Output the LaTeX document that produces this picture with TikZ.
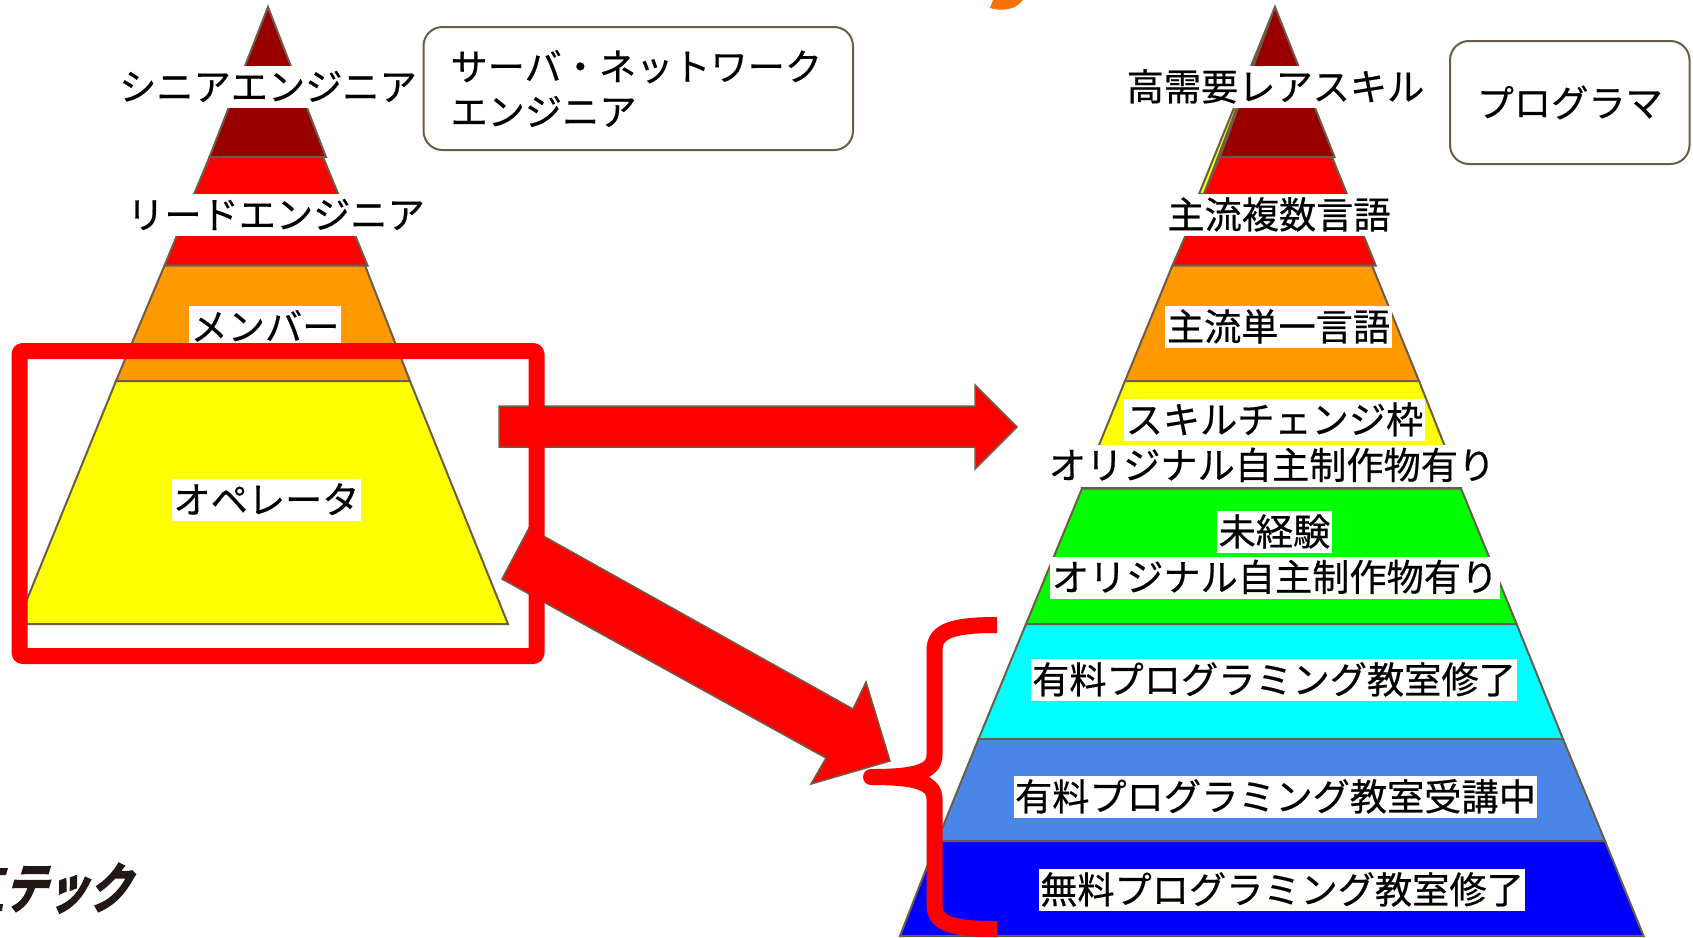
\documentclass[tikz,border=0pt]{standalone}
\usepackage{fontspec}
\setmainfont[FakeBold=0.5]{Noto Sans CJK JP}
\newfontfamily\logofont[FakeSlant=0.3,FakeBold=3,FakeStretch=0.78]{Noto Sans CJK JP Bold}
\definecolor{edgeC}{HTML}{6B5D48}
\definecolor{dkred}{HTML}{980000}
\definecolor{orangeC}{HTML}{FF9900}
\definecolor{midblue}{HTML}{4A86E8}
\definecolor{logoC}{HTML}{231815}
\definecolor{blobC}{HTML}{F57200}
\definecolor{pureyellow}{HTML}{FFFF00}
\definecolor{purecyan}{HTML}{00FFFF}
\definecolor{puregreen}{HTML}{00FF00}
\definecolor{pureblue}{HTML}{0000FF}
\definecolor{purered}{HTML}{FF0000}
\tikzset{
  band/.style={draw=edgeC,line width=2pt,line join=miter},
  lbl/.style={fill=white,inner xsep=1.5pt,inner ysep=0pt,text height=34.5pt,text depth=7.5pt,font=\fontsize{37.2pt}{42pt}\selectfont},
  roundbox/.style={draw=edgeC,line width=2pt,rounded corners=19pt,fill=white,font=\fontsize{37.2pt}{45pt}\selectfont},
  blockarrow/.style={fill=purered,draw=edgeC,line width=1.5pt,line join=miter},
  redmark/.style={draw=purered,line width=16pt,line join=round}
}
\begin{document}
\begin{tikzpicture}[x=1pt,y=-1pt]
\useasboundingbox (0,0) rectangle (1693,937);
% orange blob at the top edge
\fill[blobC] (990,8) .. controls (1000,11) and (1015,11) .. (1023,0) -- (993,0) -- cycle;
% left pyramid
\path[band,fill=dkred] (268,7) -- (326,157) -- (209.5,157) -- cycle;
\path[band,fill=purered] (209.5,157) -- (323,157) -- (367.5,265.5) -- (164.5,265.5) -- cycle;
\path[band,fill=orangeC] (164.5,265.5) -- (365,265.5) -- (410,381) -- (116,381) -- cycle;
\path[band,fill=pureyellow] (116,381) -- (410,381) -- (508,624) -- (17,624) -- cycle;
% right pyramid
\path[band,fill=pureyellow] (1275,7) -- (1199,194) -- (1204,194) -- cycle;
\path[band,fill=dkred] (1275,7) -- (1334.5,157) -- (1220,157) -- cycle;
\path[band,fill=purered] (1220,157) -- (1332,157) -- (1375.7,265.5) -- (1172.4,265.5) -- cycle;
\path[band,fill=orangeC] (1172.4,265.5) -- (1372,265.5) -- (1419,381) -- (1125,381) -- cycle;
\path[band,fill=pureyellow] (1125,381) -- (1419,381) -- (1461,487) -- (1082,487) -- cycle;
\path[band,fill=puregreen] (1082,488.5) -- (1461,488.5) -- (1516.6,624) -- (1026,624) -- cycle;
\path[band,fill=purecyan] (1026,624) -- (1516.6,624) -- (1563,739) -- (978.5,739) -- cycle;
\path[band,fill=midblue] (978.5,739) -- (1563,739) -- (1605,841) -- (937,841) -- cycle;
\path[band,fill=pureblue] (937,841) -- (1605,841) -- (1643.6,936) -- (900,936) -- cycle;
% left labels
\node[lbl] (senior) at (268,87) {シニアエンジニア};
\node[lbl] (lead) at (276,215) {リードエンジニア};
\node[lbl] (member) at (265,327) {メンバー};
\node[lbl] (operator) at (266.5,500) {オペレータ};
% right labels
\node[lbl] (rare) at (1275.5,87) {高需要レアスキル};
\node[lbl] (multi) at (1279,215) {主流複数言語};
\node[lbl] (single) at (1278.5,327) {主流単一言語};
\node[lbl] (change) at (1274.5,420) {スキルチェンジ枠};
\node[lbl] (orig1) at (1272,465.5) {オリジナル自主制作物有り};
\node[lbl] (novice) at (1274.5,532) {未経験};
\node[lbl] (orig2) at (1275,577.5) {オリジナル自主制作物有り};
\node[lbl] (paid) at (1274,680) {有料プログラミング教室修了};
\node[lbl] (paying) at (1275.5,797) {有料プログラミング教室受講中};
\node[lbl] (free) at (1282,890) {無料プログラミング教室修了};
% role boxes
\node[roundbox,minimum width=429.5pt,minimum height=123pt,inner xsep=27pt,inner ysep=0pt,text width=375.5pt,align=left] (serverbox) at (638.25,88.5) {サーバ・ネットワーク\\エンジニア};
\node[roundbox,minimum width=239.5pt,minimum height=123pt,inner sep=0pt] (progbox) at (1569.75,102.5) {プログラマ};
% logo
\node[anchor=base west,inner sep=0pt,text=logoC,font=\fontsize{54pt}{54pt}\logofont] (logo) at (3,908) {テック};
\fill[logoC] (0,868) -- (8,868) -- (6,875) -- (0,875) -- cycle;
\fill[logoC] (0,904) -- (3,904) -- (2,911) -- (0,911) -- cycle;
% block arrows
\path[blockarrow] (499,406) -- (975,406) -- (975,385) -- (1017,427) -- (975,469) -- (975,447) -- (499,447) -- cycle;
\path[blockarrow] (529,528) -- (853,709) -- (866,682) -- (890,761) -- (811,784) -- (826,758) -- (502,579) -- cycle;
% red frame
\draw[redmark,rounded corners=3pt] (19.5,351) rectangle (536.5,656);
% red brace
\draw[redmark] (997,625) .. controls (955,625) and (934.5,630) .. (934.5,650) -- (934.5,755) .. controls (934.5,772) and (915,777) .. (871,777) .. controls (915,777) and (934.5,782) .. (934.5,799) -- (934.5,905) .. controls (934.5,925) and (955,929) .. (997,929);
\end{tikzpicture}
\end{document}
